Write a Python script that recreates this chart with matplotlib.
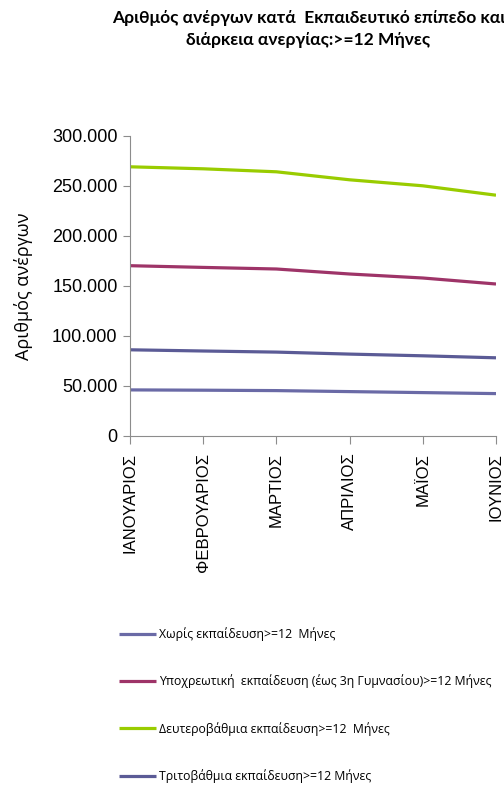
import matplotlib.pyplot as plt

months = ["ΙΑΝΟΥΑΡΙΟΣ", "ΦΕΒΡΟΥΑΡΙΟΣ", "ΜΑΡΤΙΟΣ", "ΑΠΡΙΛΙΟΣ", "ΜΑΪΟΣ", "ΙΟΥΝΙΟΣ"]
xoris = [46100, 45800, 45400, 44400, 43400, 42400]
ypoxreotiki = [170300, 168600, 167000, 162000, 158000, 152000]
deuterovathmia = [269200, 267200, 264200, 256200, 250200, 240800]
tritovathmia = [86200, 85000, 83900, 81900, 80200, 78200]

labels = ["Χωρίς εκπαίδευση>=12  Μήνες",
          "Υποχρεωτική  εκπαίδευση (έως 3η Γυμνασίου)>=12 Μήνες",
          "Δευτεροβάθμια εκπαίδευση>=12  Μήνες",
          "Τριτοβάθμια εκπαίδευση>=12 Μήνες"]
colors = ["#6A6AA6", "#9E3468", "#99CC00", "#5B5B96"]

plt.rcParams['font.family'] = ['Liberation Sans', 'DejaVu Sans']

fig = plt.figure(figsize=(5.04, 7.94), dpi=100)
ax = fig.add_axes([130 / 504, 1 - 436 / 794, (496 - 130) / 504, 300 / 794])

series = [xoris, ypoxreotiki, deuterovathmia, tritovathmia]
x = range(len(months))
for vals, lab, col in zip(series, labels, colors):
    ax.plot(x, vals, color=col, lw=2.3, label=lab, solid_capstyle='butt')

ax.set_xlim(0, len(months) - 1)
ax.set_ylim(0, 300000)
ax.set_yticks(range(0, 300001, 50000))
ax.set_yticklabels(["0"] + [f"{v // 1000}.000" for v in range(50000, 300001, 50000)], fontsize=13)
ax.set_xticks(list(x))
ax.set_xticklabels(months, rotation=90, fontsize=12, va='top')

for s in ["top", "right"]:
    ax.spines[s].set_visible(False)
for s in ["left", "bottom"]:
    ax.spines[s].set_color("#8C8C8C")
ax.tick_params(axis='y', length=5, color="#8C8C8C", pad=4)
ax.tick_params(axis='x', length=6, color="#8C8C8C", pad=6)

ax.set_ylabel("Αριθμός ανέργων", fontsize=13, family=['Open Sans', 'DejaVu Sans'], labelpad=14)

fig.text(0.612, 0.987, "Αριθμός ανέργων κατά  Εκπαιδευτικό επίπεδο και\nδιάρκεια ανεργίας:>=12 Μήνες",
         ha='center', va='top', fontsize=12.5, fontweight='bold', linespacing=1.45,
         family=['Lato', 'DejaVu Sans'])

fig.legend(loc='upper left', bbox_to_anchor=(108 / 504, 1 - 616 / 794), frameon=False,
           handlelength=3.0, handletextpad=0.3, labelspacing=2.75,
           prop={'family': ['Open Sans', 'DejaVu Sans'], 'size': 8.8})

fig.savefig("out.png", dpi=100)
